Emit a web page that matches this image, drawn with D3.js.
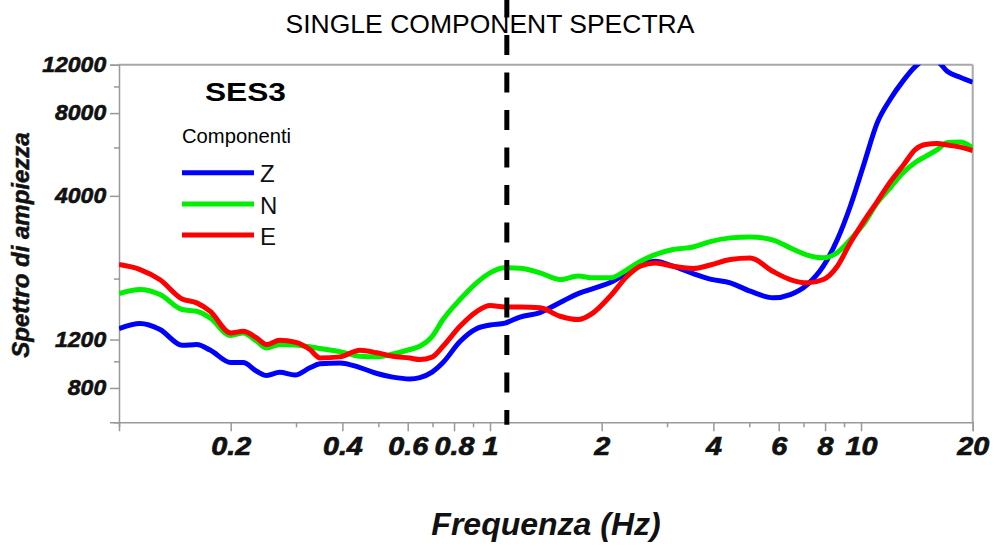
<!DOCTYPE html>
<html>
<head>
<meta charset="utf-8">
<script src="https://cdn.jsdelivr.net/npm/d3@7"></script>
<style>
body { margin: 0; background: #fff; }
text { font-family: "Liberation Sans", Arial, sans-serif; }
</style>
</head>
<body>
<div id="container"></div>
<script>
// frequencies (Hz) shared by the three components
var freq = [0.1, 0.114, 0.129, 0.148, 0.162, 0.176, 0.2, 0.216, 0.235, 0.25, 0.271, 0.298, 0.327, 0.348,
    0.394, 0.446, 0.496, 0.547, 0.608, 0.647, 0.698, 0.747, 0.83, 0.922, 1, 1.098, 1.205, 1.364, 1.545,
    1.728, 1.896, 2.108, 2.342, 2.539, 2.787, 3.116, 3.528, 3.922, 4.441, 5.028, 5.8, 6.445, 7.165, 7.912,
    8.633, 9.357, 10.14, 11.07, 12, 13, 14, 14.9, 16.06, 17.1, 18.5, 20];

var ampZ = [1316, 1372, 1305, 1144, 1151, 1099, 990, 990, 920, 888, 912, 891, 947, 979, 987, 949, 903, 876,
    863, 873, 914, 990, 1180, 1316, 1355, 1378, 1449, 1505, 1636, 1764, 1839, 1934, 2103, 2250, 2313, 2218,
    2086, 1992, 1930, 1799, 1702, 1749, 1902, 2218, 2773, 3665, 5124, 7400, 9000, 10500, 11800, 12524,
    12317, 11325, 10797, 10356];

var ampN = [1764, 1824, 1749, 1543, 1521, 1439, 1241, 1269, 1183, 1119, 1151, 1146, 1129, 1113, 1085, 1043,
    1038, 1063, 1104, 1134, 1230, 1419, 1678, 1934, 2098, 2188, 2181, 2098, 1984, 2043, 2012, 2012, 2157,
    2307, 2446, 2551, 2605, 2727, 2813, 2836, 2762, 2587, 2436, 2379, 2487, 2773, 3144, 3781, 4287, 4861,
    5287, 5559, 5894, 6249, 6274, 5977];

var ampE = [2250, 2157, 1980, 1685, 1632, 1521, 1269, 1286, 1217, 1151, 1193, 1175, 1104, 1029, 1038, 1097,
    1074, 1043, 1028, 1015, 1036, 1134, 1341, 1521, 1595, 1575, 1575, 1565, 1459, 1419, 1501, 1725, 2039,
    2218, 2281, 2218, 2176, 2240, 2345, 2375, 2121, 1984, 1930, 1984, 2218, 2698, 3211, 3822, 4500, 5170,
    5894, 6146, 6197, 6120, 6018, 5844];

var seriesNames = ["Z", "N", "E"];
var seriesColors = ["#0000ff", "#00ee00", "#ff0000"];

var xTicks = [0.1, 0.2, 0.3, 0.4, 0.5, 0.6, 0.7, 0.8, 0.9, 1, 2, 3, 4, 5, 6, 7, 8, 9, 10, 20];
var xLabels = ["0.2", "0.4", "0.6", "0.8", "1", "2", "4", "6", "8", "10", "20"];
var yTicks = [600, 800, 1000, 1200, 2000, 4000, 6000, 8000, 10000, 12000];
var yLabels = ["800", "1200", "4000", "8000", "12000"];

var markerFreq = 1.11;

var W = 997, H = 547;
var margin = {top: 64.7, right: 24.3, bottom: 124.7, left: 119},
    width = W - margin.left - margin.right,
    height = H - margin.top - margin.bottom;

var x = d3.scaleLog()
    .domain([0.1, 20])
    .range([0, width]);

var y = d3.scaleLog()
    .domain([600, 12000])
    .range([height, 0]);

var svg = d3.select("#container").append("svg")
    .attr("width", W)
    .attr("height", H);

var g = svg.append("g")
    .attr("transform", "translate(" + margin.left + "," + margin.top + ")");

g.append("defs").append("clipPath")
    .attr("id", "plotclip")
  .append("rect")
    .attr("x", 0).attr("y", 0)
    .attr("width", width).attr("height", height);

// frame (top and right)
g.append("line")
    .attr("x1", 0).attr("x2", width).attr("y1", 0).attr("y2", 0)
    .attr("stroke", "#a8a8a8").attr("stroke-width", 2);
g.append("line")
    .attr("x1", width).attr("x2", width).attr("y1", 0).attr("y2", height)
    .attr("stroke", "#a8a8a8").attr("stroke-width", 2);

var xAxis = d3.axisBottom(x)
    .tickValues(xTicks)
    .tickSize(9)
    .tickPadding(6)
    .tickFormat(function(d) {
        var s = String(+d.toFixed(1));
        return xLabels.indexOf(s) >= 0 ? s : "";
    });

var gx = g.append("g")
    .attr("transform", "translate(0," + height + ")")
    .call(xAxis);

gx.selectAll(".tick").each(function(d) {
    var s = String(+d.toFixed(1));
    if (xLabels.indexOf(s) < 0) d3.select(this).select("line").attr("y2", 5);
});
gx.selectAll("text")
    .attr("transform", "scale(1.15,1)")
    .style("font-size", "25px")
    .style("font-weight", "bold")
    .style("font-style", "italic")
    .attr("fill", "#111")
    .attr("stroke", "#111")
    .attr("stroke-width", 0.7);

var yAxis = d3.axisLeft(y)
    .tickValues(yTicks)
    .tickSize(9)
    .tickPadding(3)
    .tickFormat(function(d) {
        var s = String(d);
        return yLabels.indexOf(s) >= 0 ? s : "";
    });

var gy = g.append("g").call(yAxis);

gy.selectAll(".tick").each(function(d) {
    if (yLabels.indexOf(String(d)) < 0) d3.select(this).select("line").attr("x2", -5);
});
gy.selectAll("text")
    .attr("transform", "scale(1.07,1)")
    .style("font-size", "21.5px")
    .style("font-weight", "bold")
    .style("font-style", "italic")
    .attr("fill", "#111")
    .attr("stroke", "#111")
    .attr("stroke-width", 0.6);

svg.selectAll(".domain").attr("stroke", "#999").attr("stroke-width", 1.5);
svg.selectAll(".tick line").attr("stroke", "#999").attr("stroke-width", 1.5);

// spectra
var line = d3.line()
    .x(function(d) { return x(d[0]); })
    .y(function(d) { return y(d[1]); })
    .curve(d3.curveMonotoneX);

var series = [ampZ, ampN, ampE];

g.append("g")
    .attr("clip-path", "url(#plotclip)")
  .selectAll("path")
    .data(series)
  .enter().append("path")
    .attr("d", function(s) { return line(freq.map(function(f, i) { return [f, s[i]]; })); })
    .attr("fill", "none")
    .attr("stroke", function(s, i) { return seriesColors[i]; })
    .attr("stroke-width", 5)
    .attr("stroke-linejoin", "round");

// dashed marker line
g.append("line")
    .attr("x1", x(markerFreq)).attr("x2", x(markerFreq))
    .attr("y1", -margin.top - 2.5).attr("y2", height + 2.5)
    .attr("stroke", "#000")
    .attr("stroke-width", 5)
    .attr("stroke-dasharray", "20,17.5");

// titles
svg.append("text")
    .attr("x", 490).attr("y", 33)
    .attr("text-anchor", "middle")
    .style("font-size", "26.5px")
    .text("SINGLE COMPONENT SPECTRA");

svg.append("text")
    .attr("transform", "translate(29,245) rotate(-90)")
    .attr("text-anchor", "middle")
    .style("font-size", "24px")
    .style("font-weight", "bold")
    .style("font-style", "italic")
    .attr("fill", "#111")
    .attr("stroke", "#111")
    .attr("stroke-width", 0.5)
    .text("Spettro di ampiezza");

svg.append("text")
    .attr("x", 546).attr("y", 535)
    .attr("text-anchor", "middle")
    .style("font-size", "32px")
    .style("font-weight", "bold")
    .style("font-style", "italic")
    .attr("fill", "#111")
    .text("Frequenza (Hz)");

// legend
var legend = svg.append("g");

legend.append("text")
    .attr("x", 205).attr("y", 101)
    .style("font-size", "26px")
    .style("font-weight", "bold")
    .attr("textLength", 81)
    .attr("lengthAdjust", "spacingAndGlyphs")
    .text("SES3");

legend.append("text")
    .attr("x", 182).attr("y", 143)
    .style("font-size", "20.5px")
    .attr("textLength", 109)
    .attr("lengthAdjust", "spacingAndGlyphs")
    .text("Componenti");

var legendY = [172.7, 204, 235];
var item = legend.selectAll(".item")
    .data(seriesNames)
  .enter().append("g")
    .attr("class", "item")
    .attr("transform", function(d, i) { return "translate(0," + legendY[i] + ")"; });

item.append("line")
    .attr("x1", 182).attr("x2", 254)
    .attr("stroke", function(d, i) { return seriesColors[i]; })
    .attr("stroke-width", 5);

item.append("text")
    .attr("x", 260).attr("y", 9.5)
    .style("font-size", "24px")
    .attr("fill", "#111")
    .text(function(d) { return d; });
</script>
</body>
</html>
